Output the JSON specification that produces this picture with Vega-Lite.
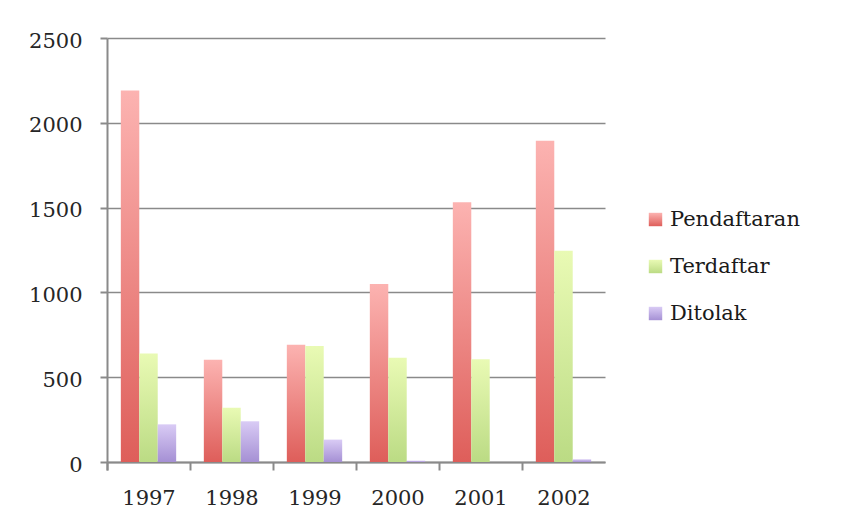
{
  "$schema": "https://vega.github.io/schema/vega-lite/v6.json",
  "width": 498,
  "height": 424,
  "autosize": {"type": "none"},
  "padding": {"left": 107, "top": 38, "right": 244, "bottom": 61},
  "background": "white",
  "data": {
    "values": [
      {"year": "1997", "series": "Pendaftaran", "value": 2190},
      {"year": "1997", "series": "Terdaftar", "value": 640},
      {"year": "1997", "series": "Ditolak", "value": 222},
      {"year": "1998", "series": "Pendaftaran", "value": 603},
      {"year": "1998", "series": "Terdaftar", "value": 320},
      {"year": "1998", "series": "Ditolak", "value": 240},
      {"year": "1999", "series": "Pendaftaran", "value": 692},
      {"year": "1999", "series": "Terdaftar", "value": 684},
      {"year": "1999", "series": "Ditolak", "value": 132},
      {"year": "2000", "series": "Pendaftaran", "value": 1050},
      {"year": "2000", "series": "Terdaftar", "value": 614},
      {"year": "2000", "series": "Ditolak", "value": 8},
      {"year": "2001", "series": "Pendaftaran", "value": 1532},
      {"year": "2001", "series": "Terdaftar", "value": 606},
      {"year": "2001", "series": "Ditolak", "value": 0},
      {"year": "2002", "series": "Pendaftaran", "value": 1894},
      {"year": "2002", "series": "Terdaftar", "value": 1245},
      {"year": "2002", "series": "Ditolak", "value": 16}
    ]
  },
  "mark": {"type": "bar"},
  "encoding": {
    "x": {
      "field": "year",
      "type": "nominal",
      "scale": {"paddingInner": 0.3333, "paddingOuter": 0.1667},
      "axis": {
        "title": null,
        "labelAngle": 0,
        "bandPosition": 0,
        "tickExtra": true,
        "tickOffset": -13.8,
        "labelOffset": 13.8,
        "labelAlign": "center",
        "tickSize": 8,
        "labelPadding": 17,
        "domainColor": "#8a8a8a",
        "domainWidth": 2,
        "tickColor": "#8a8a8a",
        "tickWidth": 2,
        "labelFont": "DejaVu Serif",
        "labelFontSize": 21,
        "labelColor": "#262626"
      }
    },
    "xOffset": {"field": "series", "type": "nominal", "sort": ["Pendaftaran", "Terdaftar", "Ditolak"]},
    "y": {
      "field": "value",
      "type": "quantitative",
      "scale": {"domain": [0, 2500], "nice": false},
      "axis": {
        "title": null,
        "format": "d",
        "values": [0, 500, 1000, 1500, 2000, 2500],
        "tickSize": 7,
        "labelPadding": 18,
        "labelOffset": 3,
        "domainColor": "#8a8a8a",
        "domainWidth": 2,
        "tickColor": "#8a8a8a",
        "tickWidth": 2,
        "gridColor": "#8a8a8a",
        "gridWidth": 1.6,
        "labelFont": "DejaVu Serif",
        "labelFontSize": 21,
        "labelColor": "#262626"
      }
    },
    "color": {
      "field": "series",
      "type": "nominal",
      "sort": ["Pendaftaran", "Terdaftar", "Ditolak"],
      "scale": {
        "domain": ["Pendaftaran", "Terdaftar", "Ditolak"],
        "range": [
          {"expr": "{'gradient':'linear','x1':0,'y1':0,'x2':0,'y2':1,'stops':[{'offset':0,'color':'#FCB3B1'},{'offset':1,'color':'#DE5E5A'}]}"},
          {"expr": "{'gradient':'linear','x1':0,'y1':0,'x2':0,'y2':1,'stops':[{'offset':0,'color':'#E9FAB4'},{'offset':1,'color':'#BBDB84'}]}"},
          {"expr": "{'gradient':'linear','x1':0,'y1':0,'x2':0,'y2':1,'stops':[{'offset':0,'color':'#D9CBF5'},{'offset':1,'color':'#A590D4'}]}"}
        ]
      },
      "legend": {
        "title": null,
        "orient": "none",
        "legendX": 538,
        "legendY": 171,
        "symbolType": "square",
        "symbolSize": 180,
        "symbolStrokeWidth": 0,
        "rowPadding": 25,
        "labelOffset": 4,
        "labelFont": "DejaVu Serif",
        "labelFontSize": 21,
        "labelColor": "#1a1a1a",
        "labelLimit": 300
      }
    }
  },
  "config": {
    "view": {"stroke": null}
  }
}
